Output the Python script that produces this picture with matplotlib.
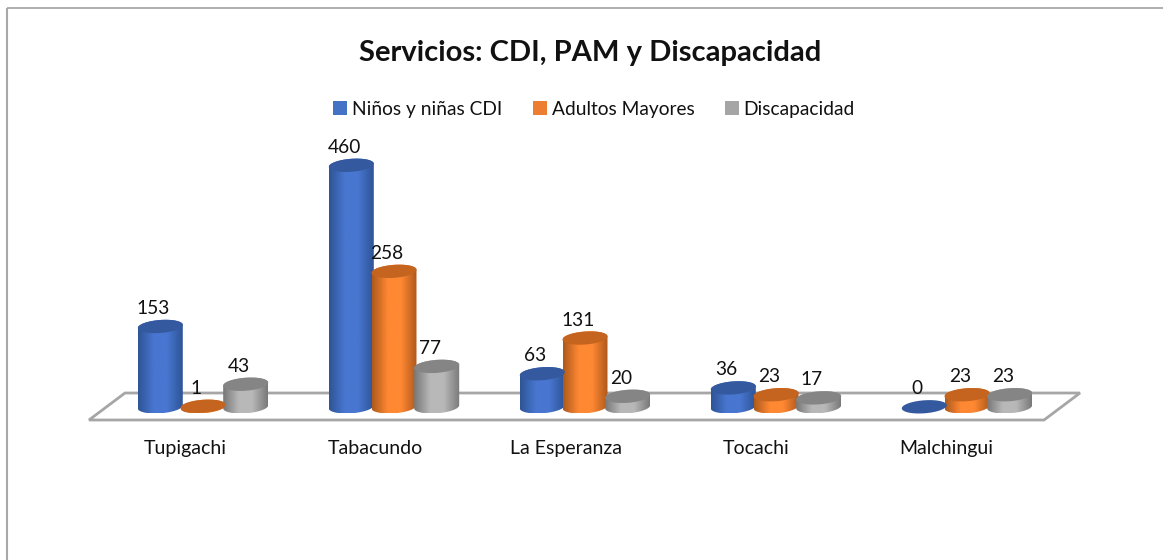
#!/usr/bin/env python
# -*- coding: utf-8 -*-
"""Servicios: CDI, PAM y Discapacidad, drawn as Excel-style 3D cylinders."""

import matplotlib
matplotlib.use("Agg")
import matplotlib.pyplot as plt
import numpy as np
from matplotlib.colors import LinearSegmentedColormap
from matplotlib.patches import Patch, PathPatch, Polygon
from matplotlib.path import Path

plt.rcParams["font.family"] = ["Lato", "DejaVu Sans"]

categories = ["Tupigachi", "Tabacundo", "La Esperanza", "Tocachi", "Malchingui"]
ninos_cdi = [153, 460, 63, 36, 0]
adultos_mayores = [1, 258, 131, 23, 23]
discapacidad = [43, 77, 20, 17, 23]
series_names = ["Niños y niñas CDI", "Adultos Mayores", "Discapacidad"]

WIDTH, HEIGHT = 1163, 560
GROUP_PX = 191.0
BAR_PX = 42.7
VALUE_PX = 0.525
BASE_X, BASE_Y = 203.0, 406.8  # pixel position of first group / value 0
RX_PX, RY_PX = 22.5, 6.5
SLOPE = 0.07

# edge, highlight, edge, top colour, legend colour
STYLES = [
    ("#2f5596", "#4876d0", "#2f5597", "#34599f", "#4472c4"),
    ("#ae5a1c", "#ff8833", "#b0591b", "#c4641f", "#ed7d31"),
    ("#787878", "#b8b8b8", "#7a7a7a", "#858585", "#a5a5a5"),
]


def ellipse_xy(xc, yc, n=90):
    """Sheared ellipse outline in data units, upper half left to right, then lower half back."""
    theta = np.linspace(0, 2 * np.pi, n)
    dx = RX_PX / GROUP_PX * -np.cos(theta)
    dy = (RY_PX * np.sin(theta) + SLOPE * RX_PX * -np.cos(theta)) / VALUE_PX
    return xc + dx, yc + dy


def draw_cylinder(ax, xc, value, style):
    low, high, right, top, _ = style
    xs_top, ys_top = ellipse_xy(xc, value)
    if value > 0:
        xs_base, ys_base = ellipse_xy(xc, 0)
        half = len(xs_base) // 2
        # lower half of base (right to left), then upper half of top (left to right)
        verts = np.column_stack([np.r_[xs_base[half:], xs_top[:half]], np.r_[ys_base[half:], ys_top[:half]]])
        clip = PathPatch(Path(verts), transform=ax.transData, fc="none", ec="none")
        ax.add_patch(clip)
        cmap = LinearSegmentedColormap.from_list(
            "body", [(0, low), (0.35, high), (0.65, high), (1, right)]
        )
        half_w = RX_PX / GROUP_PX
        ext = (xc - half_w, xc + half_w, ys_base.min(), ys_top.max())
        im = ax.imshow(
            np.linspace(0, 1, 64)[None, :], extent=ext, cmap=cmap,
            aspect="auto", origin="lower", zorder=3, interpolation="bilinear",
        )
        im.set_clip_path(clip)
    ax.add_patch(Polygon(np.column_stack([xs_top, ys_top]), closed=True, fc=top, ec="none", zorder=3.1))


fig = plt.figure(figsize=(WIDTH / 100, HEIGHT / 100), dpi=100, facecolor="white")

# pixel-coordinate layer for frame and floor
deco = fig.add_axes([0, 0, 1, 1])
deco.set_xlim(0, WIDTH)
deco.set_ylim(HEIGHT, 0)
deco.axis("off")
deco.plot([7, WIDTH], [8.3, 8.3], color="#999999", lw=1.1, solid_capstyle="butt")
deco.plot([7, 7], [8, HEIGHT], color="#a8a8a8", lw=1.5, solid_capstyle="butt")
deco.add_patch(Polygon([(89, 420), (1044, 420), (1080, 393), (125, 393)], closed=True,
                       fc="white", ec="#a6a6a6", lw=2, joinstyle="miter"))

# data layer: x in groups, y in service counts
ax = fig.add_axes([0, 0, 1, 1])
ax.patch.set_alpha(0)
ax.axis("off")
xlim = (-BASE_X / GROUP_PX, (WIDTH - BASE_X) / GROUP_PX)
ylim = (-(HEIGHT - BASE_Y) / VALUE_PX, BASE_Y / VALUE_PX)

offset = BAR_PX / GROUP_PX
label_shift = -7 / GROUP_PX
for s, values in enumerate([ninos_cdi, adultos_mayores, discapacidad]):
    for g, value in enumerate(values):
        xc = g + (s - 1) * offset
        draw_cylinder(ax, xc, value, STYLES[s])
        ax.text(xc + label_shift, value + 18 / VALUE_PX, str(value), ha="center", va="center",
                fontsize=13.8, color="#111111", zorder=5)

for g, name in enumerate(categories):
    ax.text(g - (18 + 0.7 * g) / GROUP_PX, -47 / VALUE_PX, name, ha="center", va="baseline",
            fontsize=14, color="#111111", zorder=5)

ax.set_xlim(xlim)
ax.set_ylim(ylim)

fig.text(590 / WIDTH, 1 - 53 / HEIGHT, "Servicios: CDI, PAM y Discapacidad", ha="center", va="center",
         fontsize=21, fontweight="bold", color="#111111")

handles = [Patch(fc=st[4], ec="none") for st in STYLES]
fig.legend(handles, series_names, ncol=3, loc="center", bbox_to_anchor=(594 / WIDTH, 1 - 109 / HEIGHT),
           frameon=False, fontsize=13.8, handlelength=0.72, handleheight=0.72, handletextpad=0.26,
           columnspacing=1.6, labelcolor="#111111")

fig.savefig("out.png", dpi=100)
